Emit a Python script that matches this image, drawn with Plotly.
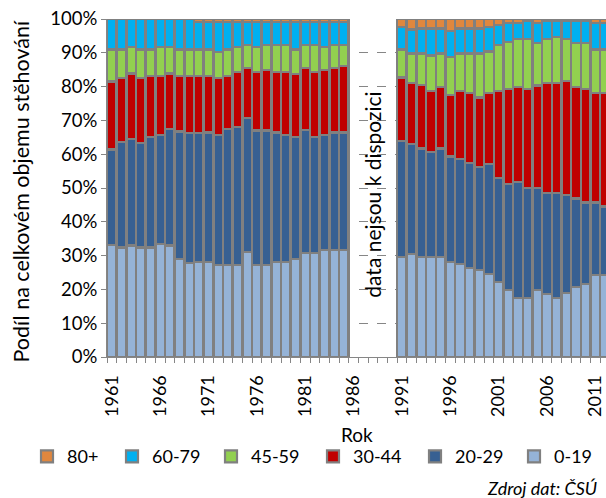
import plotly.graph_objects as go

years = list(range(1961, 1986)) + list(range(1991, 2013))

share_0_19 = [33.1, 32.4, 33.0, 32.4, 32.4, 33.4, 33.0, 28.9, 27.7, 28.2, 28.2, 27.3, 27.3, 27.3, 31.1,
              27.3, 27.3, 28.0, 28.0, 28.9, 30.7, 30.7, 31.7, 31.7, 31.7,
              29.7, 30.5, 29.7, 29.7, 29.7, 28.2, 27.5, 26.4, 25.7, 24.6, 22.3, 19.8, 17.5, 17.5, 19.8,
              18.6, 17.4, 19.0, 20.8, 21.5, 24.3, 24.3]
share_20_29 = [28.3, 31.3, 31.4, 30.8, 32.6, 32.3, 34.4, 37.8, 38.5, 38.0, 38.2, 38.4, 40.2, 40.8, 39.5,
               39.7, 39.7, 38.4, 37.7, 36.3, 36.5, 34.5, 34.0, 34.7, 34.7,
               34.3, 32.5, 32.0, 30.9, 32.0, 31.1, 31.0, 31.1, 30.6, 32.5, 30.6, 31.3, 34.2, 32.4, 30.1,
               30.0, 31.2, 28.9, 26.1, 24.2, 21.4, 20.2]
share_30_44 = [20.1, 18.9, 19.5, 19.4, 18.2, 17.5, 16.5, 16.5, 17.0, 17.0, 16.8, 16.9, 15.7, 16.3, 15.0,
               17.4, 18.0, 18.0, 18.7, 18.6, 18.4, 19.2, 19.3, 19.2, 19.8,
               18.7, 18.0, 18.7, 18.1, 18.1, 18.1, 20.1, 20.5, 20.5, 20.9, 25.8, 28.2, 28.1, 29.4, 30.4,
               32.4, 32.4, 33.8, 32.9, 33.5, 32.3, 33.5]
share_45_59 = [9.5, 8.4, 7.7, 8.4, 7.8, 8.4, 7.7, 7.8, 7.8, 7.8, 7.8, 7.7, 7.8, 7.2, 6.7,
               7.2, 7.3, 7.9, 7.9, 7.2, 6.7, 7.9, 6.6, 6.7, 6.1,
               8.3, 8.8, 9.4, 10.5, 10.0, 11.3, 11.2, 11.8, 13.0, 12.4, 13.6, 14.0, 14.2, 14.7, 12.5,
               13.0, 13.6, 12.3, 13.0, 13.6, 13.0, 13.0]
share_60_79 = [9.0, 9.0, 8.4, 9.0, 9.0, 8.4, 8.4, 9.0, 9.0, 8.0, 8.0, 8.7, 8.0, 7.4, 6.7,
               7.4, 6.7, 6.7, 6.7, 8.0, 6.7, 6.7, 7.4, 6.7, 6.7,
               6.7, 7.1, 7.4, 8.0, 7.4, 7.8, 7.4, 7.4, 7.4, 7.3, 5.9, 5.4, 4.7, 5.4, 5.9,
               5.4, 4.8, 5.4, 6.6, 6.6, 7.7, 7.7]
share_80 = [0.0, 0.0, 0.0, 0.0, 0.0, 0.0, 0.0, 0.0, 0.0, 1.0, 1.0, 1.0, 1.0, 1.0, 1.0,
            1.0, 1.0, 1.0, 1.0, 1.0, 1.0, 1.0, 1.0, 1.0, 1.0,
            2.3, 3.1, 2.8, 2.8, 2.8, 3.5, 2.8, 2.8, 2.8, 2.3, 1.8, 1.3, 1.3, 0.6, 1.3,
            0.6, 0.6, 0.6, 0.6, 0.6, 1.3, 1.3]

groups = ["0-19", "20-29", "30-44", "45-59", "60-79", "80+"]
colors = ["#95b3d7", "#376092", "#c00000", "#92d050", "#00b0f0", "#e0873e"]
series = [share_0_19, share_20_29, share_30_44, share_45_59, share_60_79, share_80]

tick_years = [1961, 1966, 1971, 1976, 1981, 1986, 1991, 1996, 2001, 2006, 2011]

FONT = "Lato"
GRAY = "#868686"

# one legend box per group so the entries sit where Excel put them (px from left)
legend_x = {"80+": 27, "60-79": 112, "45-59": 211, "30-44": 313, "20-29": 415, "0-19": 514}

fig = go.Figure()
layout_legends = {}
for i, (name, col, vals) in enumerate(zip(groups, colors, series)):
    key = "legend" if i == 0 else f"legend{i + 1}"
    fig.add_trace(go.Bar(x=years, y=vals, name=name, legend=key,
                         marker=dict(color=col, line=dict(color="#808080", width=2.2))))
    layout_legends[key] = dict(orientation="h", xref="container", x=legend_x[name] / 606, xanchor="left",
                               yref="container", y=0.12, yanchor="top", font=dict(size=18),
                               itemwidth=30, bgcolor="rgba(0,0,0,0)")

fig.add_annotation(x=1988, y=48, text="data nejsou k dispozici", textangle=-90, showarrow=False,
                   font=dict(family=FONT, size=21, color="#000"))
fig.add_annotation(xref="paper", yref="paper", x=0.5, y=-0.228, yanchor="middle", text="Rok",
                   showarrow=False, font=dict(family=FONT, size=19, color="#000"))
fig.add_annotation(xref="paper", yref="paper", x=-0.172, y=0.49, xanchor="center", yanchor="middle",
                   text="Podíl na celkovém objemu stěhování",
                   textangle=-90, showarrow=False, font=dict(family=FONT, size=21.5, color="#000"))
fig.add_annotation(xref="paper", yref="paper", x=0.985, y=-0.388, xanchor="right", yanchor="middle",
                   text="<i>Zdroj dat: ČSÚ</i>", showarrow=False, font=dict(family=FONT, size=18, color="#000"))

fig.update_layout(
    width=606, height=498, barmode="stack", bargap=0.04,
    paper_bgcolor="white", plot_bgcolor="white",
    margin=dict(l=107, r=0, t=19, b=141, autoexpand=False),
    font=dict(family=FONT, size=18, color="#000"),
    xaxis=dict(range=[1960.5, 2012.1], tickvals=tick_years,
               ticktext=[str(y) for y in tick_years], automargin=False,
               tickangle=-90, ticks="", showline=True, linecolor=GRAY, showgrid=False, zeroline=False,
               minor=dict(tick0=1960.5, dtick=1, ticks="outside", ticklen=5, tickcolor=GRAY, showgrid=False),
               ticklabelstandoff=10, tickfont=dict(size=18)),
    yaxis=dict(range=[0, 100], dtick=10, ticksuffix="%", showline=True, linecolor=GRAY, automargin=False,
               ticks="outside", ticklen=5, tickcolor=GRAY, gridcolor=GRAY, griddash="dash", zeroline=False,
               tickfont=dict(size=18.5)),
    showlegend=True,
    **layout_legends,
)

fig.write_html("out.html", config={"displayModeBar": False},
               post_script="document.body.style.margin='0';")
